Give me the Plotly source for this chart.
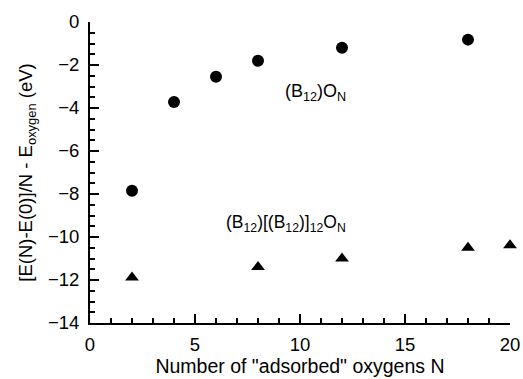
import plotly.graph_objects as go

n_b12 = [2, 4, 6, 8, 12, 18]
e_b12 = [-7.85, -3.72, -2.55, -1.8, -1.2, -0.82]
n_cluster = [2, 8, 12, 18, 20]
e_cluster = [-11.88, -11.4, -11.0, -10.5, -10.38]

x_ticks = [0, 5, 10, 15, 20]
y_ticks = [0, -2, -4, -6, -8, -10, -12, -14]

font = "Liberation Sans, Arial, Helvetica, sans-serif"

fig = go.Figure()
fig.add_trace(go.Scatter(x=n_b12, y=e_b12, mode="markers", cliponaxis=False,
                         marker=dict(symbol="circle", size=12, color="black"),
                         showlegend=False))
fig.add_trace(go.Scatter(x=n_cluster, y=e_cluster, mode="markers", cliponaxis=False,
                         marker=dict(symbol="triangle-up", size=12, color="black"),
                         showlegend=False))

fig.add_annotation(x=9.2, y=-3.3, xref="x", yref="y", xanchor="left", yanchor="middle",
                   text="(B<sub>12</sub>)O<sub>N</sub>", showarrow=False,
                   font=dict(family=font, size=18, color="black"))
fig.add_annotation(x=6.4, y=-9.35, xref="x", yref="y", xanchor="left", yanchor="middle",
                   text="(B<sub>12</sub>)[(B<sub>12</sub>)]<sub>12</sub>O<sub>N</sub>", showarrow=False,
                   font=dict(family=font, size=17.5, color="black"))

fig.update_layout(
    width=523, height=379,
    margin=dict(l=90, r=13, t=22, b=56, autoexpand=False),
    paper_bgcolor="white", plot_bgcolor="white",
    font=dict(family=font, size=18, color="black"),
)
fig.update_xaxes(
    range=[0, 20], tickvals=x_ticks, ticks="inside", ticklen=9, tickwidth=1.5,
    tickcolor="black", showline=True, linecolor="black", linewidth=2,
    showgrid=False, zeroline=False, mirror=False, automargin=True,
    minor=dict(ticks="inside", dtick=1, ticklen=5, tickwidth=1.5, tickcolor="black", showgrid=False),
    title=dict(text='Number of "adsorbed" oxygens N', font=dict(size=19.5), standoff=4),
    tickfont=dict(size=18.5), ticklabelstandoff=4,
)
fig.update_yaxes(
    range=[-14, 0], tickvals=y_ticks, ticks="inside", ticklen=9, tickwidth=1.5,
    tickcolor="black", showline=True, linecolor="black", linewidth=2,
    showgrid=False, zeroline=False, mirror=False, automargin=True,
    minor=dict(ticks="inside", dtick=0.5, ticklen=5, tickwidth=1.5, tickcolor="black", showgrid=False),
    title=dict(text="[E(N)-E(0)]/N - E<sub>oxygen</sub> (eV)", font=dict(size=18.5), standoff=10),
    tickfont=dict(size=18.5), ticklabelstandoff=5,
)
fig.write_html("out.html", config={"displayModeBar": False},
               post_script="document.body.style.margin='0';document.body.style.overflow='hidden';")
